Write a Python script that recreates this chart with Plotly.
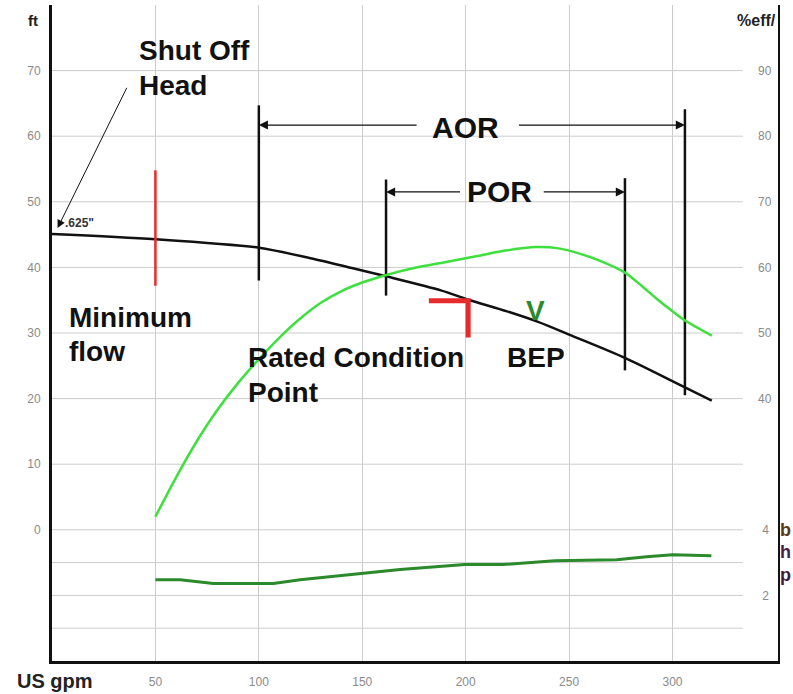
import plotly.graph_objects as go

# ---------------- data ----------------
# Head curve (ft) vs flow (US gpm)
head_gpm = [0, 50, 100, 125, 145, 162, 188, 201, 220, 235, 252, 277, 306, 319]
head_ft = [45.1, 44.3, 43.0, 41.4, 39.9, 38.6, 36.5, 35.1, 33.3, 31.7, 29.5, 26.2, 21.7, 19.7]

# Efficiency curve (%)
eff_gpm = [50, 60, 70, 80, 90, 100, 110, 120, 130, 140, 150, 160, 175, 190, 205, 220, 234,
           245, 255, 265, 277, 285, 292, 300, 306, 319]
eff_pct = [22.0, 28.0, 33.5, 38.3, 42.4, 46.0, 49.3, 52.2, 54.6, 56.4, 57.7, 58.7, 59.9, 60.8,
           61.7, 62.6, 63.1, 62.9, 62.1, 61.0, 59.2, 57.2, 55.3, 53.3, 51.9, 49.6]

# Brake horsepower curve (bhp)
bhp_gpm = [50, 62, 78, 107, 120, 134.5, 149, 168.3, 199.6, 218, 243, 273, 287.5, 300, 318.8]
bhp_val = [2.48, 2.48, 2.36, 2.36, 2.48, 2.57, 2.66, 2.79, 2.94, 2.94, 3.06, 3.09, 3.18, 3.24, 3.21]

# Operating region markers (gpm) and their vertical extents (ft)
aor_gpm = [100, 306]
aor_top = [64.7, 64.1]
aor_bottom = [38.0, 20.5]
aor_arrow_ft = 61.7
por_gpm = [161.5, 277]
por_top = [53.4, 53.6]
por_bottom = [35.7, 24.3]
por_arrow_ft = 51.5
min_flow_gpm = 50
min_flow_span = [54.8, 37.2]
rated_gpm = 201.2
rated_ft = 34.9
rated_marker = [182.2, 29.3]  # left end of bar, bottom end of stem
bep_gpm = 233.9
bep_ft = 32.0
shutoff_ft = 45.1

# Ticks
x_ticks = [50, 100, 150, 200, 250, 300]
ft_ticks = [0, 10, 20, 30, 40, 50, 60, 70]
ft_grid = [-15, -10, -5, 0, 10, 20, 30, 40, 50, 60, 70]
eff_ticks = [40, 50, 60, 70, 80, 90]
bhp_ticks = [2, 4]

# ---------------- figure ----------------
W, H = 793, 694
ML, MR, MT, MB = 52, 15, 5, 31
PW, PH = W - ML - MR, H - MT - MB

BLACK = "#111111"
RED = "#e52b2b"
LGREEN = "#3ee03e"
DGREEN = "#2b8a2b"
GRID = "#cccccc"
TICKC = "#8a8a8a"
FONT = "Liberation Sans, Arial, sans-serif"

fig = go.Figure()

# curves
fig.add_trace(go.Scatter(x=head_gpm, y=head_ft, mode="lines", line=dict(color=BLACK, width=2.5, shape="spline", smoothing=0.8),
                         yaxis="y", showlegend=False, hoverinfo="skip"))
fig.add_trace(go.Scatter(x=eff_gpm, y=eff_pct, mode="lines", line=dict(color=LGREEN, width=2.5, shape="spline", smoothing=0.8),
                         yaxis="y2", showlegend=False, hoverinfo="skip"))
fig.add_trace(go.Scatter(x=bhp_gpm, y=bhp_val, mode="lines", line=dict(color=DGREEN, width=3),
                         yaxis="y3", showlegend=False, hoverinfo="skip"))

# AOR / POR vertical lines
vx, vy = [], []
for g, t, b in zip(aor_gpm + por_gpm, aor_top + por_top, aor_bottom + por_bottom):
    vx += [g, g, None]
    vy += [t, b, None]
fig.add_trace(go.Scatter(x=vx, y=vy, mode="lines", line=dict(color=BLACK, width=2.5),
                         showlegend=False, hoverinfo="skip"))

# minimum flow red line
fig.add_trace(go.Scatter(x=[min_flow_gpm, min_flow_gpm], y=min_flow_span, mode="lines",
                         line=dict(color=RED, width=2.5), showlegend=False, hoverinfo="skip"))
# rated condition marker
fig.add_trace(go.Scatter(x=[rated_marker[0], rated_gpm, rated_gpm], y=[rated_ft, rated_ft, rated_marker[1]],
                         mode="lines", line=dict(color=RED, width=5), showlegend=False, hoverinfo="skip"))

# horizontal grid lines (stop short of the right frame)
shapes = []
for g in ft_grid:
    shapes.append(dict(type="line", xref="x", yref="y", x0=0, x1=334, y0=g, y1=g,
                       line=dict(color=GRID, width=1), layer="below"))

ann = []
def arrow(xh, yh, xt, yt, width=1.3, size=1.4, head=2):
    ann.append(dict(x=xh, y=yh, ax=xt, ay=yt, xref="x", yref="y", axref="x", ayref="y",
                    text="", showarrow=True, arrowhead=head, arrowsize=size, arrowwidth=width,
                    arrowcolor=BLACK))

# AOR arrows
arrow(aor_gpm[0], aor_arrow_ft, 177, aor_arrow_ft)
arrow(aor_gpm[1], aor_arrow_ft, 225, aor_arrow_ft)
# POR arrows
arrow(por_gpm[0], por_arrow_ft, 198, por_arrow_ft)
arrow(por_gpm[1], por_arrow_ft, 237, por_arrow_ft)
# Shut off head arrow
arrow(2.7, 46.0, 36.5, 67.6, width=1, size=1.6, head=2)

def text(x, y, s, size=26, color=BLACK, xanchor="left", yanchor="middle", xref="x", yref="y", bold=True):
    ann.append(dict(x=x, y=y, xref=xref, yref=yref, text=f"<b>{s}</b>" if bold else s,
                    showarrow=False, xanchor=xanchor, yanchor=yanchor,
                    font=dict(family=FONT, size=size, color=color)))

text(41.3, 73.0, "Shut Off", size=28)
text(41.3, 67.7, "Head", size=28)
text(200, 61.4, "AOR", size=30, xanchor="center")
text(216.5, 51.6, "POR", size=30, xanchor="center")
text(7.3, 32.3, "Minimum", size=28)
text(7.3, 27.2, "flow", size=28)
text(94, 26.3, "Rated Condition", size=28)
text(94, 21.0, "Point", size=28)
text(bep_gpm, 26.3, "BEP", size=28, xanchor="center")
text(bep_gpm, bep_ft + 1.5, "V", size=28, color=DGREEN, xanchor="center")
text(5.5, shutoff_ft + 1.6, ".625\"", size=12, color="#333333")

# axis titles placed in pixel positions
def px(xp):
    return (xp - ML) / PW
def py(yp):
    return (H - MB - yp) / PH

text(px(15), py(683), "US gpm", size=20, color="#222222", xref="paper", yref="paper")
text(px(26), py(21), "ft", size=15, color="#222222", xref="paper", yref="paper")
text(px(778), py(21), "%eff/", size=16, color="#222222", xanchor="right", xref="paper", yref="paper")
text(px(778), py(532), "b", size=18, color="#5a3a18", xref="paper", yref="paper")
text(px(778), py(554), "h", size=18, color="#4a1e48", xref="paper", yref="paper")
text(px(778), py(577), "p", size=18, color="#3e1a3e", xref="paper", yref="paper")

fig.update_layout(
    width=W, height=H,
    margin=dict(l=ML, r=MR, t=MT, b=MB, pad=0),
    plot_bgcolor="white", paper_bgcolor="white",
    showlegend=False,
    shapes=shapes, annotations=ann,
    font=dict(family=FONT),
    xaxis=dict(range=[0, 351], tickvals=x_ticks, showgrid=True, gridcolor=GRID, gridwidth=1,
               zeroline=False, showline=True, linecolor=BLACK, linewidth=3,
               ticks="", ticklabelstandoff=8, tickfont=dict(size=12, color=TICKC, family=FONT)),
    yaxis=dict(range=[-20, 80], tickvals=ft_ticks, showgrid=False, zeroline=False,
               showline=True, linecolor=BLACK, linewidth=3, ticks="", ticklabelstandoff=6,
               tickfont=dict(size=12, color=TICKC, family=FONT)),
    yaxis2=dict(range=[0, 100], overlaying="y", side="right", tickvals=eff_ticks,
                showgrid=False, zeroline=False, showline=True, linecolor=BLACK, linewidth=2,
                ticks="", ticklabelposition="inside", ticklabelstandoff=6,
                tickfont=dict(size=12, color=TICKC, family=FONT)),
    yaxis3=dict(range=[0, 20], overlaying="y", side="right", tickvals=bhp_ticks,
                showgrid=False, zeroline=False, showline=False,
                ticks="", ticklabelposition="inside", ticklabelstandoff=6,
                tickfont=dict(size=12, color=TICKC, family=FONT)),
)

fig.write_html("out.html", config={"displayModeBar": False},
               post_script="document.body.style.margin='0';document.body.style.overflow='hidden';")
